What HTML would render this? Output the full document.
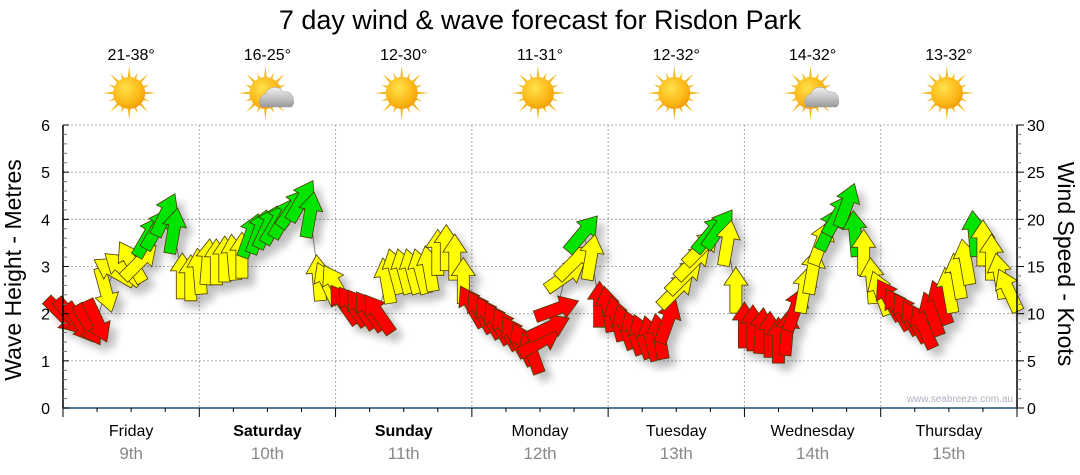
<!DOCTYPE html>
<html><head><meta charset="utf-8">
<style>
html,body{margin:0;padding:0;background:#fff;}
svg{display:block;font-family:"Liberation Sans","DejaVu Sans",sans-serif;}
</style></head>
<body>
<svg id="chart" width="1080" height="475" viewBox="0 0 1080 475">
<defs>
<filter id="sh" x="-50%" y="-50%" width="200%" height="200%">
<feGaussianBlur in="SourceAlpha" stdDeviation="4"/>
<feOffset dx="7" dy="7" result="b"/>
<feComponentTransfer><feFuncA type="linear" slope="0.25"/></feComponentTransfer>
<feMerge><feMergeNode/><feMergeNode in="SourceGraphic"/></feMerge>
</filter>
<radialGradient id="sunG" cx="0.4" cy="0.35" r="0.7">
<stop offset="0" stop-color="#ffe14a"/><stop offset="0.7" stop-color="#fbb514"/><stop offset="1" stop-color="#ef9a0a"/>
</radialGradient>
<linearGradient id="cloudG" x1="0" y1="0" x2="0" y2="1">
<stop offset="0" stop-color="#f2f2f2"/><stop offset="1" stop-color="#9a9a9a"/>
</linearGradient>
</defs>
<text x="540" y="29" text-anchor="middle" font-size="27" fill="#000">7 day wind &amp; wave forecast for Risdon Park</text>
<g id="grid"></g>
<g id="icons"></g>
<g id="series"></g>
<g id="axes"></g>
<text x="1013" y="402" text-anchor="end" font-size="10" fill="#aab0bb">www.seabreeze.com.au</text>
<text transform="translate(21,270) rotate(-90)" text-anchor="middle" font-size="23" fill="#000">Wave Height - Metres</text>
<text transform="translate(1058,264) rotate(90)" text-anchor="middle" font-size="23" fill="#000">Wind Speed - Knots</text>
</svg>
<script>
const days = ["Friday","Saturday","Sunday","Monday","Tuesday","Wednesday","Thursday"];
const dates = ["9th","10th","11th","12th","13th","14th","15th"];
const boldDays = [false,true,true,false,false,false,false];
const temps = ["21-38°","16-25°","12-30°","11-31°","12-32°","14-32°","13-32°"];
const cloudy = [false,true,false,false,false,true,false];
const waveTicks = [0,1,2,3,4,5,6];
const windTicks = [0,5,10,15,20,25,30];
const windKnots = [
9.8,9.6,9.0,8.8,9.2,12.5,14.5,14.8,15.5,15.5,18.2,19,20.5,18.8,14,13.8,
14.5,15.5,15.5,15.8,16,16.2,18.3,18.7,19.2,19.6,20.2,21.2,22,20.5,13.8,13.2,
13,11,10.8,10.5,10.3,10,13.5,14.5,14.5,14.5,14.5,14.8,16.5,17,16,13.5,
10.8,10.2,9.6,9.0,8.4,7.6,6.8,6.0,7.0,8.5,10.5,14.0,15.5,18.5,16.0,11,
10.5,9.5,8.6,8.0,7.6,7.4,7.6,9.2,12.5,14,15.5,17,18.5,19,17.5,12.5,
8.8,8.5,8.2,7.8,7.2,8.0,10.5,12.5,14.5,17.5,19,20.5,21.5,18.5,16.5,13.5,
12.2,11.5,10.5,10,9.2,8.6,10,11.2,12.5,14,15.5,18.5,17.5,16,14,12.5];
const windDir = [
135,140,145,150,155,165,-60,-50,-30,45,30,30,25,10,0,0,
-5,5,0,0,-5,0,20,20,25,30,30,35,30,10,-5,-25,
-30,-35,-35,-35,-35,-35,-10,-15,-15,-15,-15,-10,0,0,0,0,
-30,-30,-30,-30,-30,-30,-25,-20,60,65,70,55,45,40,10,0,
-10,-15,-20,-20,-20,-15,-10,20,45,45,45,45,40,35,10,0,
0,0,5,0,0,5,20,10,10,20,25,30,20,-5,0,-5,
-20,-30,-30,-30,-30,-25,-20,-20,-10,-10,-10,-5,0,0,-10,-25];

const NS="http://www.w3.org/2000/svg";
const X0=63, X1=1017, Y0=408, YT=125;
const dayW=(X1-X0)/7;
function yWave(v){return Y0-(Y0-YT)*v/6;}
function yWind(v){return Y0-(Y0-YT)*v/30;}
function xIdx(i){return X0+i*(X1-X0)/112;}
function mk(tag,attrs,parent){const e=document.createElementNS(NS,tag);for(const k in attrs)e.setAttribute(k,attrs[k]);parent.appendChild(e);return e;}
const grid=document.getElementById('grid'),axes=document.getElementById('axes'),series=document.getElementById('series'),icons=document.getElementById('icons');

waveTicks.forEach(v=>{ if(v>0){
 const l=mk('line',{x1:X0,x2:X1,y1:yWave(v),y2:yWave(v),stroke:'#aaa','stroke-dasharray':'2,2','stroke-width':1},grid);
 
 
}});
for(let d=1;d<7;d++){
 const x=X0+d*dayW;
 const l=mk('line',{x1:x,x2:x,y1:YT,y2:Y0,stroke:'#aaa','stroke-dasharray':'2,2','stroke-width':1},grid);
 
 
}

for(let d=0;d<7;d++){
 const cx=X0+(d+0.5)*dayW;
 const t=mk('text',{x:cx,y:60,'text-anchor':'middle','font-size':16,fill:'#000'},icons);
 t.textContent=temps[d];
 
 
 const g=mk('g',{transform:`translate(${cx-2},93)`},icons);
 
 
 for(let k=0;k<16;k++){
  const a=k*Math.PI/8, long=k%2===0?27:22;
  const p=[[Math.cos(a)*long,Math.sin(a)*long],[Math.cos(a+0.13)*13,Math.sin(a+0.13)*13],[Math.cos(a-0.13)*13,Math.sin(a-0.13)*13]];
  mk('polygon',{points:p.map(q=>q.join(',')).join(' '),fill:'#f5b820'},g);
 }
 mk('circle',{cx:0,cy:0,r:16,fill:'url(#sunG)'},g);
 if(cloudy[d]){
  mk('path',{d:'M-4,14 a8,8 0 0 1 4,-13 a10,10 0 0 1 18,-2 a8,8 0 0 1 10,8 a7,7 0 0 1 -2,7 z',fill:'url(#cloudG)',stroke:'#999','stroke-width':0.5},g);
 }
}

let pts=windKnots.map((v,i)=>xIdx(i)+','+yWind(v)).join(' ');
const pl=mk('polyline',{points:pts,fill:'none',stroke:'#888','stroke-width':1},series);



const arrowPts="-6,23 6,23 6,-5 12,-5 0,-23 -12,-5 -6,-5";
const ag=mk('g',{filter:'url(#sh)'},series);
windKnots.forEach((v,i)=>{
 const col=v<11.8?'#ff0000':(v<18?'#ffff00':'#00e400');
 const p=mk('polygon',{points:arrowPts,fill:col,stroke:'#4a3a00','stroke-width':0.8,'stroke-linejoin':'miter',
  transform:`translate(${xIdx(i).toFixed(1)},${yWind(v).toFixed(1)}) rotate(${windDir[i]})`},ag);
 
 
});

mk('line',{x1:X0,x2:X0,y1:YT,y2:Y0,stroke:'#000','stroke-width':1.5},axes);
mk('line',{x1:X1,x2:X1,y1:YT,y2:Y0,stroke:'#000','stroke-width':1.5},axes);
mk('line',{x1:X0,x2:X1,y1:Y0,y2:Y0,stroke:'#1d4f74','stroke-width':1.5},axes);
for(let k=0;k<=30;k++){
 const y=Y0-(Y0-YT)*k/30;
 mk('line',{x1:X0,x2:X0+(k%5===0?6:4),y1:y,y2:y,stroke:k%5===0?'#000':'#777','stroke-width':1},axes);
 mk('line',{x1:X1,x2:X1+(k%5===0?7:4),y1:y,y2:y,stroke:k%5===0?'#000':'#777','stroke-width':1},axes);
}
waveTicks.forEach(v=>{
 const t=mk('text',{x:50,y:yWave(v)+6,'text-anchor':'end','font-size':16,fill:'#000'},axes);
 t.textContent=v;
 
 
});
windTicks.forEach(v=>{
 const t=mk('text',{x:1027,y:yWind(v)+6,'text-anchor':'start','font-size':16,fill:'#000'},axes);
 t.textContent=v;
 
 
});
for(let q=0;q<=28;q++){
 const x=X0+q*dayW/4;
 mk('line',{x1:x,x2:x,y1:Y0,y2:Y0+(q%4===0?9:4),stroke:'#000','stroke-width':1},axes);
}
for(let d=0;d<7;d++){
 const cx=X0+(d+0.5)*dayW;
 const t=mk('text',{x:cx,y:436,'text-anchor':'middle','font-size':16,fill:'#000','font-weight':boldDays[d]?'bold':'normal'},axes);
 t.textContent=days[d];
 
 
 const t2=mk('text',{x:cx,y:459,'text-anchor':'middle','font-size':17,fill:'#888'},axes);
 t2.textContent=dates[d];
 
 
}
</script>
</body></html>
